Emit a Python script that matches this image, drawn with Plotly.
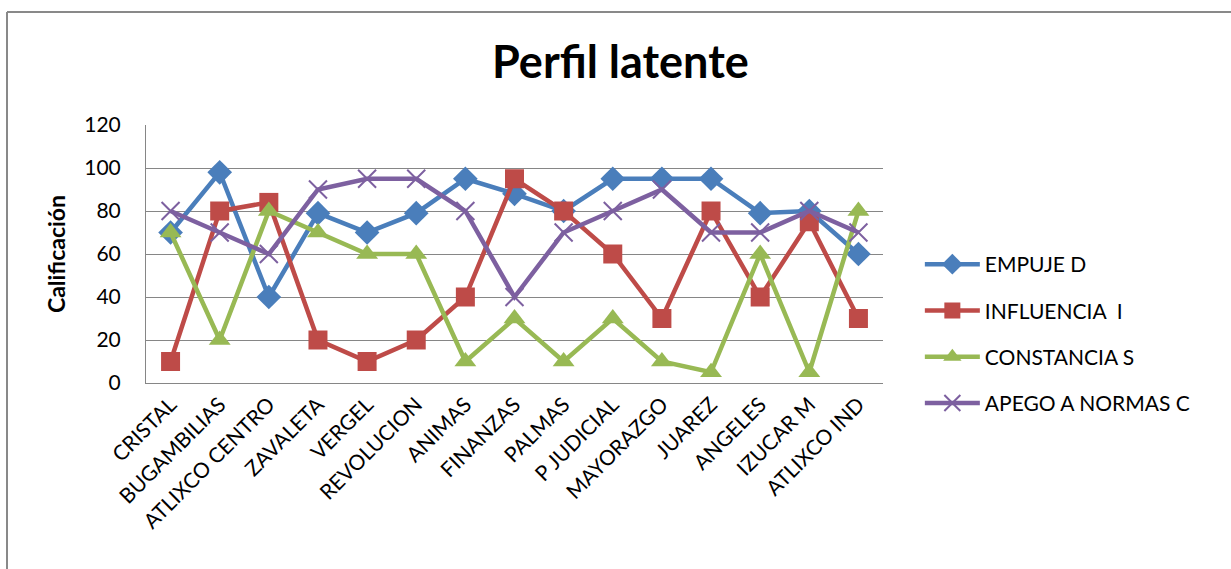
import plotly.graph_objects as go

# Sucursales evaluadas
sucursales = ["CRISTAL", "BUGAMBILIAS", "ATLIXCO CENTRO", "ZAVALETA", "VERGEL",
              "REVOLUCION", "ANIMAS", "FINANZAS", "PALMAS", "P JUDICIAL",
              "MAYORAZGO", "JUAREZ", "ANGELES", "IZUCAR M", "ATLIXCO IND"]

# Calificación por dimensión del perfil
empuje_d = [70, 98, 40, 79, 70, 79, 95, 88, 80, 95, 95, 95, 79, 80, 60]
influencia_i = [10, 80, 84, 20, 10, 20, 40, 95, 80, 60, 30, 80, 40, 75, 30]
constancia_s = [70, 20, 80, 70, 60, 60, 10, 30, 10, 30, 10, 5, 60, 5, 80]
apego_normas_c = [80, 70, 60, 90, 95, 95, 80, 40, 70, 80, 90, 70, 70, 80, 70]

y_ticks = [0, 20, 40, 60, 80, 100, 120]

FONT = "Lato"
GRID = "#868686"

series = [
    ("EMPUJE D", empuje_d, "#4A7EBB", dict(symbol="diamond", size=19)),
    ("INFLUENCIA  I", influencia_i, "#BE4B48", dict(symbol="square", size=19)),
    ("CONSTANCIA S", constancia_s, "#98B954", dict(symbol="triangle-up", size=19)),
    ("APEGO A NORMAS C", apego_normas_c, "#7D60A0",
     dict(symbol="x-thin-open", size=18, line=dict(width=2))),
]

fig = go.Figure()
for i, (name, vals, color, marker) in enumerate(series):
    m = dict(color=color, **marker)
    if "line" in m:
        m["line"]["color"] = color
    fig.add_trace(go.Scatter(
        x=sucursales, y=vals, name=name, mode="lines+markers",
        line=dict(color=color, width=4.5), marker=m,
        legendgroup=f"g{i}",
    ))

fig.update_layout(
    width=1231, height=569,
    margin=dict(l=146, r=348, t=125, b=186),
    paper_bgcolor="white", plot_bgcolor="white",
    font=dict(family=FONT, color="black", size=21),
    title=dict(text="<b>Perfil latente</b>", x=0.504, xanchor="center",
               y=0.89, yanchor="middle", font=dict(family=FONT, size=45)),
    showlegend=True,
    legend=dict(x=1.05, xanchor="left", y=0.19, yanchor="middle",
                font=dict(family=FONT, size=21), tracegroupgap=16,
                itemwidth=55, bgcolor="rgba(0,0,0,0)"),
    xaxis=dict(tickangle=-45, showgrid=False, showline=True, linecolor=GRID,
               linewidth=1, ticks="", tickfont=dict(size=21),
               range=[-0.5, len(sucursales) - 0.5]),
    yaxis=dict(range=[0, 120], tickvals=y_ticks, showgrid=True, gridcolor=GRID,
               gridwidth=1, showline=True, linecolor=GRID, linewidth=1,
               zeroline=False, ticks="", tickfont=dict(size=21),
               ticklabelstandoff=20,
               title=dict(text="<b>Calificación</b>", font=dict(size=23),
                          standoff=12)),
    shapes=[
        dict(type="line", xref="paper", yref="paper",
             x0=(7 - 146) / 737, x1=(1240 - 146) / 737,
             y0=(383 - 12) / 258, y1=(383 - 12) / 258,
             line=dict(color="#898989", width=2)),
        dict(type="line", xref="paper", yref="paper",
             x0=(7 - 146) / 737, x1=(7 - 146) / 737,
             y0=(383 - 12) / 258, y1=(383 - 580) / 258,
             line=dict(color="#898989", width=2)),
    ],
)

fig.write_html("out.html")
